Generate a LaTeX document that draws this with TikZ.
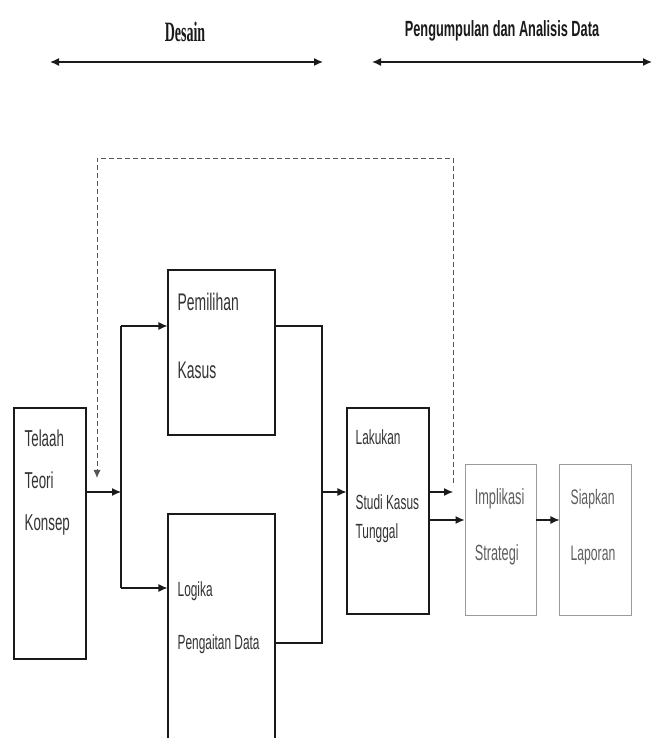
\documentclass[tikz,border=0pt]{standalone}
\usepackage{fontspec}
\setmainfont{Liberation Sans}[FakeStretch=0.58]
\newfontfamily\headserif{Liberation Serif}[FakeStretch=0.5]
\newfontfamily\headsans{Liberation Sans}[FakeStretch=0.58]
\usetikzlibrary{arrows.meta, positioning, calc}
\usepackage{xcolor}
\definecolor{ink}{HTML}{1A1A1A}
\definecolor{textink}{HTML}{333333}
\definecolor{fadeink}{HTML}{9A9A9A}
\definecolor{fadetext}{HTML}{5E5E5E}
\definecolor{dashink}{HTML}{555555}
\tikzset{
  block/.style={rectangle, draw=ink, line width=1.1pt, inner sep=0pt},
  blockFade/.style={block, draw=fadeink, line width=0.9pt},
  boxtext/.style={anchor=north west, align=left, inner sep=0pt, text=textink},
  boxtextFade/.style={boxtext, text=fadetext},
  phase/.style={inner sep=0pt, text=ink},
  arrow/.style={-{Latex[length=9pt, width=8pt]}, line width=1.1pt, ink},
  arrowx/.style={{Latex[length=9pt, width=8pt]}-{Latex[length=9pt, width=8pt]}, line width=1.4pt, ink},
  link/.style={line width=1.1pt, ink},
  arrowd/.style={-{Latex[length=8pt, width=7pt]}, line width=0.8pt, dashink, dash pattern=on 5pt off 3pt},
}
\begin{document}
\begin{tikzpicture}[x=1pt, y=1pt]
\useasboundingbox (0,0) rectangle (658,738);
\node[phase, font=\headserif\bfseries\fontsize{28}{32}\selectfont] (desain) at (185,706) {Desain};
\node[phase, font=\headsans\bfseries\fontsize{22}{26}\selectfont] (kumpul) at (502,707) {Pengumpulan dan Analisis Data};
\coordinate (d1) at (50,676);
\coordinate (d2) at (323,676);
\coordinate (k1) at (372,676);
\coordinate (k2) at (652,676);
\draw[arrowx] (d1) -- (d2);
\draw[arrowx] (k1) -- (k2);

\node[block, minimum width=72pt, minimum height=251pt] (telaah) at (50,204.5) {};
\node[block, minimum width=107pt, minimum height=165pt] (pilih) at (221.5,385.5) {};
\node[block, minimum width=107pt, minimum height=231pt] (logika) at (221.5,108.5) {};
\node[block, minimum width=82pt, minimum height=206pt] (lakukan) at (388,227) {};
\node[blockFade, minimum width=71pt, minimum height=151pt] (impl) at (500.5,198.5) {};
\node[blockFade, minimum width=72pt, minimum height=151pt, right=23pt of impl] (siapkan) {};

\node[boxtext, font=\fontsize{23}{27.6}\selectfont] (telaah-t) at ($(telaah.north west)+(11,-22.5)$) {Telaah\\[14.4pt]Teori\\[14.4pt]Konsep};
\node[boxtext, font=\fontsize{24}{28.8}\selectfont] (pilih-t) at ($(pilih.north west)+(10,-23.1)$) {Pemilihan\\[39.2pt]Kasus};
\node[boxtext, font=\fontsize{20.5}{24.6}\selectfont] (logika-t) at ($(logika.north west)+(10,-68.4)$) {Logika\\[28.4pt]Pengaitan Data};
\node[boxtext, font=\fontsize{20.5}{24.6}\selectfont] (lakukan-t) at ($(lakukan.north west)+(9,-22.4)$) {Lakukan\\[40.4pt]Studi Kasus\\[4.4pt]Tunggal};
\node[boxtextFade, font=\fontsize{22}{26.4}\selectfont] (impl-t) at ($(impl.north west)+(10,-24.9)$) {Implikasi\\[29.6pt]Strategi};
\node[boxtextFade, font=\fontsize{21}{25.2}\selectfont] (siapkan-t) at ($(siapkan.north west)+(11,-25.2)$) {Siapkan\\[30.8pt]Laporan};

\coordinate (j1) at (121,246);
\coordinate (j2) at (322,246);
\coordinate (pa) at (121,412);
\coordinate (la) at (121,150);
\coordinate (pb) at (322,412);
\coordinate (lb) at (322,95);
\coordinate (fb) at (453,246);
\coordinate (ob) at (453,218);
\draw[link] (pa) -- (la);
\draw[arrow] (telaah.east |- j1) -- (j1);
\draw[arrow] (pa) -- (pilih.west |- pa);
\draw[arrow] (la) -- (logika.west |- la);
\draw[link] (pilih.east |- pb) -- (pb) -- (lb) -- (logika.east |- lb);
\draw[arrow] (j2) -- (lakukan.west |- j2);
\draw[arrow] (lakukan.east |- fb) -- (fb);
\draw[arrow] (lakukan.east |- ob) -- (impl.west |- ob);
\draw[arrow] (impl.east |- ob) -- (siapkan.west |- ob);
\draw[arrowd] ($(fb)+(0,9)$) -- (453,580) -- (97,580) -- (97,260);
\end{tikzpicture}
\end{document}
